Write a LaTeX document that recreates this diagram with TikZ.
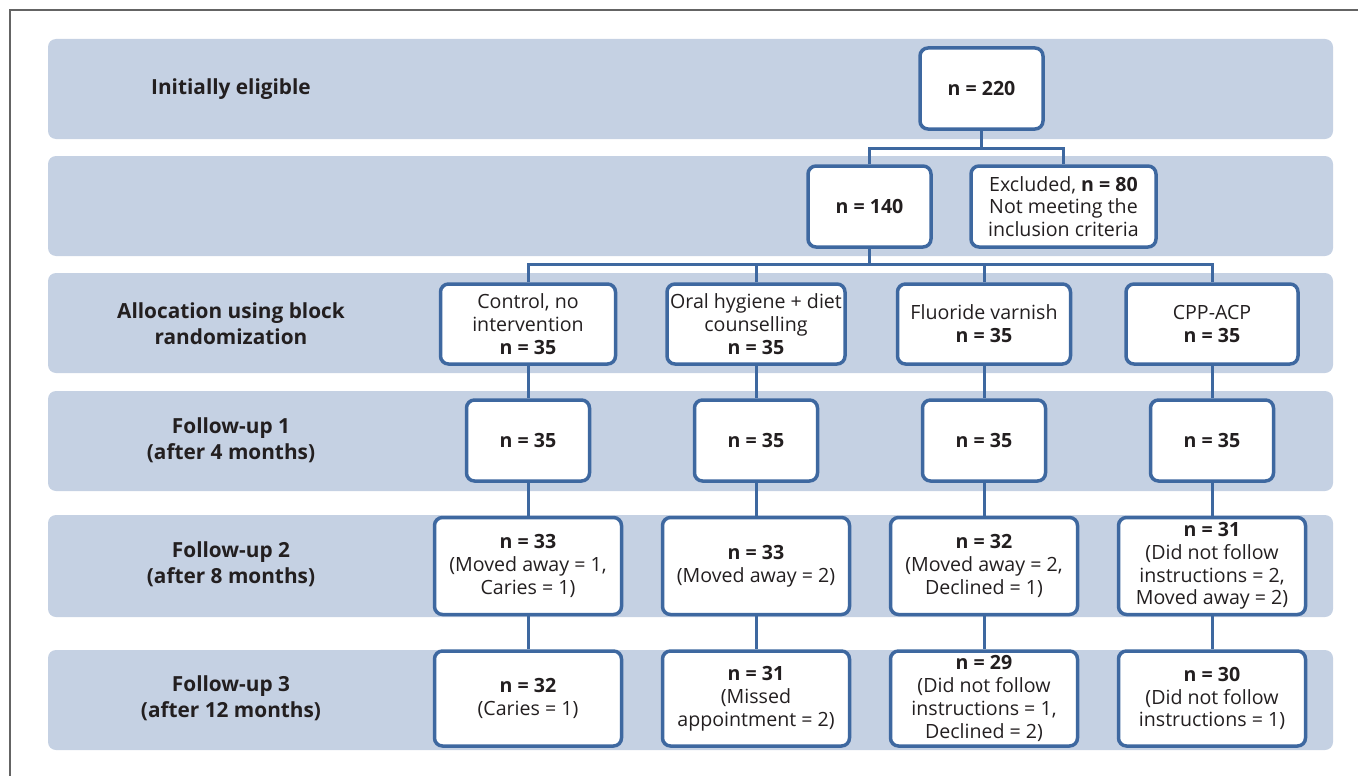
\documentclass[tikz,border=0pt]{standalone}
\usepackage{fontspec}
\setmainfont{Open Sans}
\usepackage{xcolor}
\usepackage{tikz}
\usetikzlibrary{positioning}
\definecolor{bandblue}{RGB}{197,209,227}
\definecolor{boxblue}{RGB}{62,104,160}
\definecolor{txtgray}{RGB}{35,31,32}
\definecolor{framegray}{RGB}{100,100,100}
\tikzset{
  band/.style={fill=bandblue, rounded corners=8},
  phase/.style={font=\fontsize{20.8}{26}\selectfont\bfseries, text=txtgray, align=center},
  stepbox/.style={draw=boxblue, line width=3.5, fill=white, rounded corners=8,
    align=center, text=txtgray, font=\fontsize{19.6}{22.8}\selectfont, inner sep=0},
  link/.style={draw=boxblue, line width=3}
}

\begin{document}
\begin{tikzpicture}[x=1pt, y=-1pt]
\useasboundingbox (0,0) rectangle (1358,776);
% Frame
\draw[framegray, line width=2] (10,776) -- (10,10) -- (1358,10);

% Row bands
\fill[band] (48,39) rectangle (1333,139);
\fill[band] (48,156) rectangle (1333,256);
\fill[band] (48,273) rectangle (1333,373);
\fill[band] (48,391) rectangle (1333,491);
\fill[band] (48,515) rectangle (1333,617);
\fill[band] (48,650) rectangle (1333,750);

% Row labels
\node[phase] (lbelig) at (231,89) {Initially eligible};
\node[phase] (lballoc) at (231,324) {Allocation using block\\randomization};
\node[phase] (lbfua) at (231,440) {Follow-up 1\\(after 4 months)};
\node[phase] (lbfub) at (231,564) {Follow-up 2\\(after 8 months)};
\node[phase] (lbfuc) at (231,698) {Follow-up 3\\(after 12 months)};

% Screening
\node[stepbox, minimum width=123, minimum height=81] (elig) at (981.5,88.5) {\textbf{n = 220}};
\node[stepbox, minimum width=123, minimum height=81] (incl) at (869.5,206.5) {\textbf{n = 140}};
\node[stepbox, minimum width=185, minimum height=81] (excl) at (1063.5,206.5)
  {Excluded, \textbf{n = 80}\\Not meeting the\\inclusion criteria};

% Allocation
\node[stepbox, minimum width=175, minimum height=80] (ctrl) at (528,324) {Control, no\\intervention\\\textbf{n = 35}};
\node[stepbox, minimum width=178, minimum height=80] (oral) at (756,324) {Oral hygiene + diet\\counselling\\\textbf{n = 35}};
\node[stepbox, minimum width=173, minimum height=80] (fluor) at (984,324) {Fluoride varnish\\\textbf{n = 35}};
\node[stepbox, minimum width=172, minimum height=80] (cpp) at (1212,324) {CPP-ACP\\\textbf{n = 35}};

% Follow-up 1
\node[stepbox, minimum width=123, minimum height=81] (ctrla) at (528,440.5) {\textbf{n = 35}};
\node[stepbox, minimum width=123, minimum height=81] (orala) at (756,440.5) {\textbf{n = 35}};
\node[stepbox, minimum width=123, minimum height=81] (fluora) at (984,440.5) {\textbf{n = 35}};
\node[stepbox, minimum width=123, minimum height=81] (cppa) at (1212,440.5) {\textbf{n = 35}};

% Follow-up 2
\node[stepbox, minimum width=187, minimum height=97] (ctrlb) at (528,566) {\textbf{n = 33}\\(Moved away = 1,\\Caries = 1)};
\node[stepbox, minimum width=187, minimum height=97] (oralb) at (756,566) {\textbf{n = 33}\\(Moved away = 2)};
\node[stepbox, minimum width=187, minimum height=97] (fluorb) at (984,566) {\textbf{n = 32}\\(Moved away = 2,\\Declined = 1)};
\node[stepbox, minimum width=187, minimum height=97] (cppb) at (1212,566) {\textbf{n = 31}\\(Did not follow\\instructions = 2,\\Moved away = 2)};

% Follow-up 3
\node[stepbox, minimum width=187, minimum height=95] (ctrlc) at (528,698.5) {\textbf{n = 32}\\(Caries = 1)};
\node[stepbox, minimum width=187, minimum height=95] (oralc) at (756,698.5) {\textbf{n = 31}\\(Missed\\appointment = 2)};
\node[stepbox, minimum width=187, minimum height=95] (fluorc) at (984,698.5) {\textbf{n = 29}\\(Did not follow\\instructions = 1,\\Declined = 2)};
\node[stepbox, minimum width=187, minimum height=95] (cppc) at (1212,698.5) {\textbf{n = 30}\\(Did not follow\\instructions = 1)};

% Connectors
\coordinate (split) at (981.5,148);
\coordinate (alloc) at (869.5,264);
\draw[link] (elig.south) -- (split);
\draw[link] (incl.north) |- (split) -| (excl.north);
\draw[link] (incl.south) -- (alloc);
\draw[link] (ctrl.north) |- (alloc) -| (cpp.north);
\draw[link] (oral.north) -- (oral.north |- alloc);
\draw[link] (fluor.north) -- (fluor.north |- alloc);

\draw[link] (ctrl.south) -- (ctrla.north);
\draw[link] (oral.south) -- (orala.north);
\draw[link] (fluor.south) -- (fluora.north);
\draw[link] (cpp.south) -- (cppa.north);

\draw[link] (ctrla.south) -- (ctrlb.north);
\draw[link] (orala.south) -- (oralb.north);
\draw[link] (fluora.south) -- (fluorb.north);
\draw[link] (cppa.south) -- (cppb.north);

\draw[link] (ctrlb.south) -- (ctrlc.north);
\draw[link] (oralb.south) -- (oralc.north);
\draw[link] (fluorb.south) -- (fluorc.north);
\draw[link] (cppb.south) -- (cppc.north);
\end{tikzpicture}
\end{document}
